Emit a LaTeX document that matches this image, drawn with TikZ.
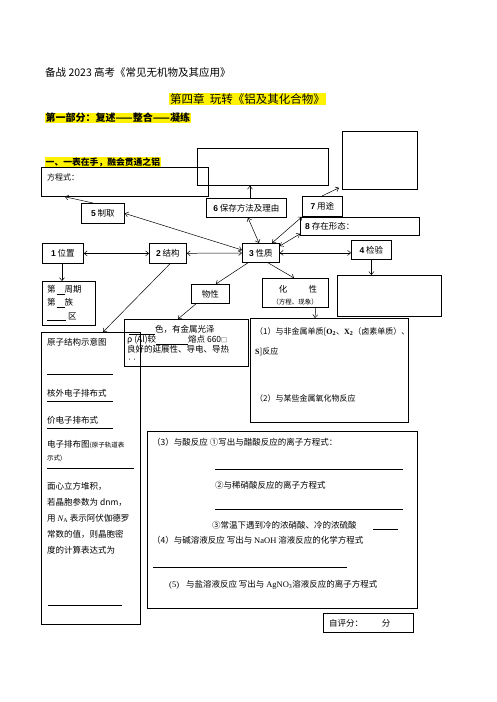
\documentclass[tikz,border=0pt]{standalone}
\usepackage{fontspec}
\setmainfont{Noto Sans CJK SC}
\newfontfamily\lserif{Liberation Serif}
\newfontfamily\lsans{Liberation Sans}
\usetikzlibrary{arrows.meta,calc}
\newcommand\myfs{\fontsize{8.5}{10}\selectfont}
\newcommand\myblank[1]{\rule[-1.5pt]{#1}{0.6pt}}
\newcommand\dig[1]{{\lsans\bfseries #1}}
\begin{document}
\begin{tikzpicture}[x=1pt,y=-1pt,
  box/.style={draw, line width=0.8pt, inner sep=0pt, anchor=north west, font=\myfs},
  txt/.style={anchor=west, inner sep=0pt, font=\myfs},
  hl/.style={fill=yellow, inner sep=1pt, anchor=west},
  conn/.style={line width=0.5pt, -{Straight Barb[length=3pt,width=5pt]}},
  dconn/.style={line width=0.5pt, {Straight Barb[length=3pt,width=5pt]}-{Straight Barb[length=3pt,width=5pt]}},
  rul/.style={line width=0.7pt}]
\useasboundingbox (0,0) rectangle (496,702);
% headings
\node[txt, font=\fontsize{10.5}{12}\selectfont] (ti) at (45,73) {备战 2023 高考《常见无机物及其应用》};
\node[hl, font=\fontsize{11.5}{13}\selectfont] (ch) at (169,99) {第四章\ \ 玩转《铝及其化合物》};
\node[hl, font=\bfseries\fontsize{10}{12}\selectfont, inner sep=0.5pt] (p1) at (45,118) {第一部分：复述——整合——凝练};
\node[hl, font=\bfseries\fontsize{8.8}{10}\selectfont, inner sep=0.5pt] (s1) at (45,162) {一、一表在手，融会贯通之铝};
% boxes
\node[box, minimum width=167pt, minimum height=29pt] (eq) at (41,167) {};
\node[txt, font=\fontsize{8}{10}\selectfont] (eqt) at (47,177) {方程式：};
\node[box, minimum width=131pt, minimum height=37pt] (tm) at (197,148) {};
\node[box, minimum width=75pt, minimum height=58pt] (tr) at (342,131) {};
\node[box, minimum width=43pt, minimum height=20pt] (b5) at (81,203) {\dig{5} 制取};
\node[box, minimum width=80pt, minimum height=19pt] (b6) at (206,198) {\dig{6} 保存方法及理由};
\node[box, minimum width=40pt, minimum height=20pt] (b7) at (302,196) {\dig{7} 用途};
\node[box, minimum width=119pt, minimum height=18pt] (b8) at (300,217) {};
\node[txt] (b8t) at (305,226) {\dig{8} 存在形态：};
\node[box, minimum width=41pt, minimum height=20pt] (b1) at (42,243) {\dig{1} 位置};
\node[box, minimum width=37pt, minimum height=20pt] (b2) at (149,243) {\dig{2} 结构};
\node[box, minimum width=37pt, minimum height=19pt] (b3) at (242,243) {\dig{3} 性质};
\node[box, minimum width=40pt, minimum height=19pt] (b4) at (351,240) {\dig{4} 检验};
\node[box, minimum width=104pt, minimum height=41pt] (b4b) at (337,275) {};
\node[box, minimum width=38pt, minimum height=19pt] (wx) at (191,284) {物性};
\node[box, minimum width=66pt, minimum height=29pt] (hx) at (262,278) {};
\node[txt, anchor=center] (hxt) at (298,289) {化\hspace{2.5em}性};
\node[txt, anchor=center, font=\fontsize{6.5}{8}\selectfont] (hxs) at (295,302) {（方程、现象）};
% period box
\node[box, minimum width=53pt, minimum height=44pt] (zq) at (42,281) {};
\node[txt] (zq1) at (47,290) {第\hspace{1pt}\myblank{8pt}周期};
\node[txt] (zq2) at (47,303) {第\hspace{1pt}\myblank{8pt}族};
\node[txt] (zq3) at (47,317) {\myblank{19pt}\hspace{2pt}区};
% atom structure box
\node[box, minimum width=99pt, minimum height=292pt] (at) at (41,332) {};
\node[txt] (a1) at (47,342) {原子结构示意图};
\draw[rul] (47,374) -- (113,374);
\node[txt] (a2) at (47,393) {核外电子排布式};
\draw[rul] (47,401) -- (113,401);
\node[txt] (a3) at (47,420) {价电子排布式};
\draw[rul] (47,428) -- (113,428);
\node[txt] (a4) at (47,445) {电子排布图{\fontsize{6.5}{8}\selectfont (原子轨道表}};
\node[txt, font=\fontsize{6.5}{8}\selectfont] (a5) at (47,458) {示式)};
\draw[rul] (47,468) -- (134,468);
\node[txt] (a6) at (47,486) {面心立方堆积，};
\node[txt] (a7) at (47,502) {若晶胞参数为 dnm，};
\node[txt] (a8) at (47,518) {用 {\lserif\itshape N}\textsubscript{\lserif A} 表示阿伏伽德罗};
\node[txt] (a9) at (47,534) {常数的值，则晶胞密};
\node[txt] (a10) at (47,550) {度的计算表达式为};
\draw[rul] (48,605) -- (122,605);
% physical property box
\node[box, minimum width=124pt, minimum height=47pt] (se) at (124,319) {};
\node[txt] (se1) at (129,330) {\myblank{26pt}色，有金属光泽};
\node[txt] (se2) at (127,340) {ρ (Al)较\myblank{32pt}熔点 660{\fontsize{6}{7}\selectfont □}};
\node[txt] (se3) at (127,349) {良好的延展性、导电、导热};
\node[txt, font=\fontsize{5}{6}\selectfont] (se4) at (127,360) {··};
% chemical property box 1
\node[box, minimum width=158pt, minimum height=104pt] (one) at (250,318) {};
\node[txt, font=\fontsize{8}{10}\selectfont] (o1) at (255,332) {（1）与非金属单质[{\lserif\bfseries O\textsubscript{2}}、{\lserif\bfseries X\textsubscript{2}}（卤素单质）、};
\node[txt, font=\fontsize{8}{10}\selectfont] (o2) at (255,352) {{\lserif\bfseries S}]反应};
\node[txt, font=\fontsize{8}{10}\selectfont] (o3) at (255,398) {（2）与某些金属氧化物反应};
% chemical property box 2
\node[box, minimum width=270pt, minimum height=177pt] (three) at (147,431) {};
\node[txt] (t1) at (152,442) {（3）与酸反应 ①写出与醋酸反应的离子方程式：};
\draw[rul] (215,469) -- (403,469);
\node[txt] (t2) at (215,485) {②与稀硝酸反应的离子方程式};
\draw[rul] (215,509) -- (403,509);
\node[txt] (t3) at (212,525) {③常温下遇到冷的浓硝酸、冷的浓硫酸};
\draw[rul] (373,529) -- (398,529);
\node[txt] (t4) at (152,540) {（4）与碱溶液反应 写出与 {\lserif NaOH} 溶液反应的化学方程式};
\draw[rul] (153,567) -- (347,567);
\node[txt] (t5) at (169,585) {{\lserif (5)}\hspace{5pt} 与盐溶液反应 写出与 {\lserif AgNO\textsubscript{3}}溶液反应的离子方程式};
% self score
\node[box, minimum width=90pt, minimum height=19pt] (sc) at (323,613) {};
\node[txt] (sct) at (329,623) {自评分：\hspace{2.2em}分};
% connectors
\draw[conn] ($(b5.north west)+(12,0)$) -- ($(eq.south west)+(24,0)$);
\draw[conn] ($(b6.north west)+(44,0)$) -- ($(tm.south west)+(53,0)$);
\draw[conn] ($(b7.north west)+(20,0)$) -- ($(tr.south west)+(-3,-2)$);
\draw[dconn] (b5.east) -- ($(b3.north west)+(0,7)$);
\draw[dconn] ($(b6.south west)+(42,0)$) -- ($(b3.north west)+(17,0)$);
\draw[dconn] (b7.south west) -- ($(b3.north west)+(30,0)$);
\draw[dconn] ($(b3.north east)+(0,3)$) -- ($(b8.south west)+(0,-2)$);
\draw[dconn] (b1) -- (b2);
\draw[dconn] (b2) -- (b3);
\draw[dconn] (b3.east) -- (b3.east -| b4.west);
\draw[conn] (b4.south) -- (b4.south |- b4b.north);
\draw[conn] ($(b3.south west)+(26,0)$) -- ($(hx.north west)+(32,0)$);
\draw[conn] ($(b3.south west)+(6,0)$) -- ($(wx.north east)+(-14,0)$);
\draw[conn] ($(wx.south west)+(5,0)$) -- ($(se.north west)+(54,0)$);
\draw[conn] ($(hx.south east)+(-13,0)$) -- ($(one.north west)+(65,0)$);
\draw[conn] ($(b1.south west)+(20,0)$) -- ($(zq.north west)+(20,0)$);
\draw[conn] ($(b2.south west)+(21,0)$) -- ($(at.north west)+(62,0)$);
\end{tikzpicture}
\end{document}
